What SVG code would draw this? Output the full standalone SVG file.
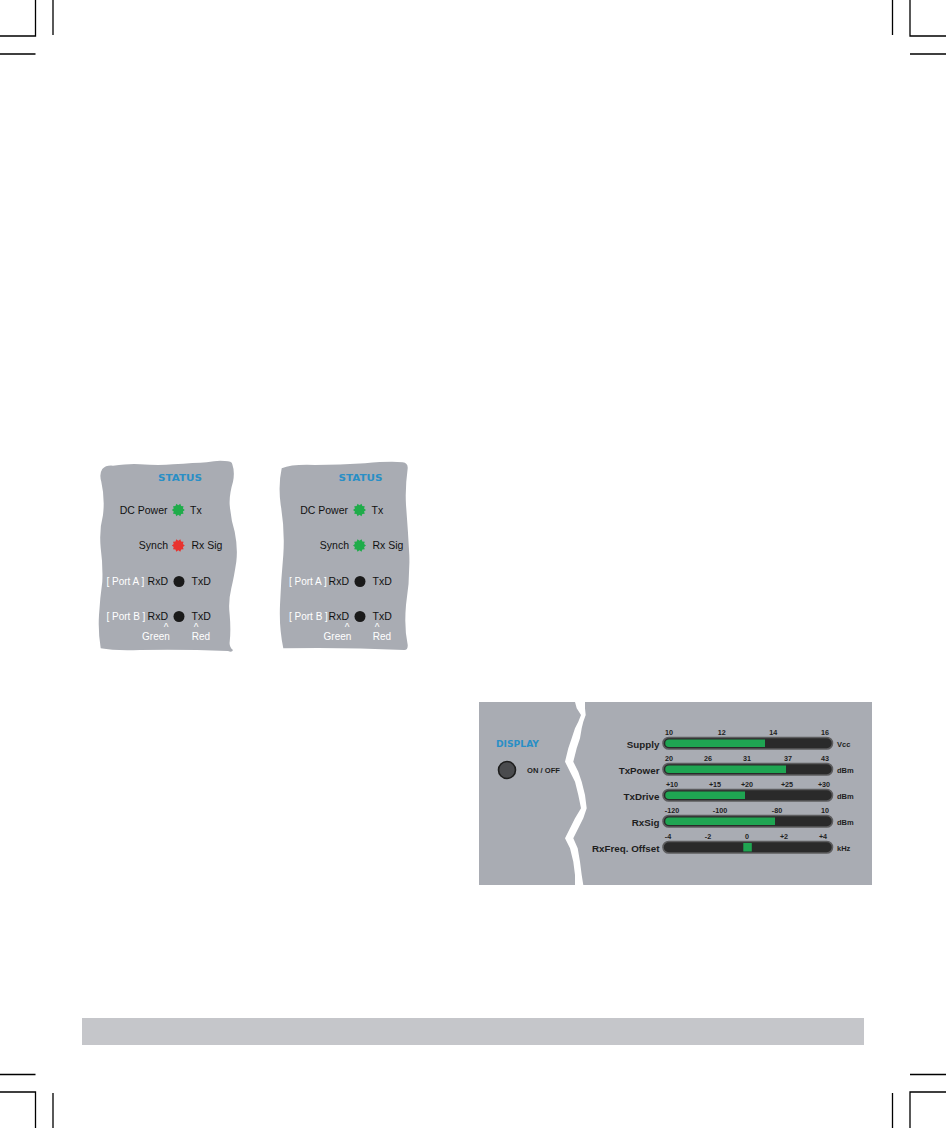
<svg xmlns="http://www.w3.org/2000/svg" width="946" height="1128" viewBox="0 0 946 1128">
<style>
.crop{stroke:#000;stroke-width:1.3;fill:none}
.panel{fill:#a9acb3}
.lbl{font-family:"Liberation Sans",Arial,sans-serif;font-size:10.5px;fill:#111}
.wl{font-family:"Liberation Sans",Arial,sans-serif;font-size:10px;fill:#fff}
.ttl{font-family:"DejaVu Sans",sans-serif;font-weight:bold;font-size:8.6px;fill:#2a8fc6}
.ml{font-family:"Liberation Sans",Arial,sans-serif;font-weight:bold;font-size:9.8px;fill:#1e1e1e}
.num{font-family:"Liberation Sans",Arial,sans-serif;font-weight:bold;font-size:7.2px;fill:#1e1e1e;text-anchor:middle}
.unit{font-family:"Liberation Sans",Arial,sans-serif;font-weight:bold;font-size:7.5px;fill:#1e1e1e}
.bar{fill:#2a2a2a;stroke:#5c5c5e;stroke-width:1.6}
.grn{fill:#1fa552}
.ledg{fill:#1fac4a}
.ledr{fill:#e8332f}
.dot{fill:#1a1a1a}
</style>
<defs>
<polygon id="star" points="6.5,0 4.565,1.483 5.259,3.821 2.821,3.883 2.009,6.182 0,4.8 -2.009,6.182 -2.821,3.883 -5.259,3.821 -4.565,1.483 -6.5,0 -4.565,-1.483 -5.259,-3.821 -2.821,-3.883 -2.009,-6.182 0,-4.8 2.009,-6.182 2.821,-3.883 5.259,-3.821 4.565,-1.483"/>
</defs>

<g id="crop-marks">
<path class="crop" d="M35.5,0V36H0M53,0V35M0,54H35.5"/>
<path class="crop" d="M910,0V36H946M892.5,0V35M910,54H946"/>
<path class="crop" d="M0,1074.5H35.5M0,1092H35.5V1128M53,1093V1128"/>
<path class="crop" d="M910,1074.5H946M946,1092H910V1128M892.5,1093V1128"/>
</g>

<rect id="footer-bar" x="82" y="1018" width="782" height="27" fill="#c5c6ca"/>

<g id="status-panel-1">
<path class="panel" d="M102.3,469 Q106,465 113,465.7 Q130,463.5 140,464.3 Q160,465.5 173,464.3 Q195,463 206.7,462.3 Q218,460 224.7,461 Q232,461 232.3,464.3 Q235,472 233,481.7 Q229,495 229.7,505 Q231,520 234.7,531.7 Q238,548 236.3,561.7 Q234,577 231.3,588.3 Q228,602 229.7,615 Q231,630 229.7,641.7 Q229,647 233,650 Q232,653 228,651 Q180,649 140,650 Q115,651 100.7,648.3 Q98,632 99,615 Q100,598 102.3,581.7 Q103,565 100.7,548 Q99,530 103,515 Q105,498 101.3,481.7 Q99,474 102.3,469 Z"/>
<text class="ttl" x="158" y="481" textLength="44" lengthAdjust="spacingAndGlyphs">STATUS</text>
<text class="lbl" x="167.5" y="514" text-anchor="end">DC Power</text>
<use href="#star" class="ledg" x="178.3" y="510"/>
<text class="lbl" x="190" y="514">Tx</text>
<text class="lbl" x="168" y="549" text-anchor="end">Synch</text>
<use href="#star" class="ledr" x="178.3" y="545.5"/>
<text class="lbl" x="191.5" y="549">Rx Sig</text>
<text class="wl" x="106.5" y="585">[ Port A ]</text>
<text class="lbl" x="168" y="585" text-anchor="end">RxD</text>
<circle class="dot" cx="179" cy="581.5" r="5.5"/>
<text class="lbl" x="191.5" y="585">TxD</text>
<text class="wl" x="106.5" y="620">[ Port B ]</text>
<text class="lbl" x="168" y="620" text-anchor="end">RxD</text>
<circle class="dot" cx="179" cy="616.5" r="5.5"/>
<text class="lbl" x="191.5" y="620">TxD</text>
<text class="wl" x="166" y="631" text-anchor="middle">^</text>
<text class="wl" x="196" y="631" text-anchor="middle">^</text>
<text class="wl" x="156" y="640" text-anchor="middle">Green</text>
<text class="wl" x="201" y="640" text-anchor="middle">Red</text>
</g>

<g id="status-panel-2">
<path class="panel" d="M281.7,468.3 Q292,464 315,465 Q340,465 365,463.3 Q390,461 402.7,462.3 Q408,463 407.7,468.3 Q405,488 406,505 Q408,530 409.3,555 Q410,580 406,605 Q404,628 407.7,645 Q408,650 404.3,650 Q340,647 283.3,648.3 Q279,628 280,605 Q281,580 283.3,555 Q285,530 280.7,505 Q278,485 281.7,468.3 Z"/>
<text class="ttl" x="338.5" y="481" textLength="44" lengthAdjust="spacingAndGlyphs">STATUS</text>
<text class="lbl" x="348" y="514" text-anchor="end">DC Power</text>
<use href="#star" class="ledg" x="359.5" y="510"/>
<text class="lbl" x="371.5" y="514">Tx</text>
<text class="lbl" x="349" y="549" text-anchor="end">Synch</text>
<use href="#star" class="ledg" x="359.5" y="545.5"/>
<text class="lbl" x="372.5" y="549">Rx Sig</text>
<text class="wl" x="289" y="585">[ Port A ]</text>
<text class="lbl" x="349" y="585" text-anchor="end">RxD</text>
<circle class="dot" cx="360" cy="581.5" r="5.5"/>
<text class="lbl" x="372.5" y="585">TxD</text>
<text class="wl" x="289" y="620">[ Port B ]</text>
<text class="lbl" x="349" y="620" text-anchor="end">RxD</text>
<circle class="dot" cx="360" cy="616.5" r="5.5"/>
<text class="lbl" x="372.5" y="620">TxD</text>
<text class="wl" x="347" y="631" text-anchor="middle">^</text>
<text class="wl" x="377" y="631" text-anchor="middle">^</text>
<text class="wl" x="337.5" y="640" text-anchor="middle">Green</text>
<text class="wl" x="382" y="640" text-anchor="middle">Red</text>
</g>

<g id="display-panel">
<rect class="panel" x="479" y="702" width="393" height="183" fill="#a8abb2"/>
<polygon fill="#fff" points="575,702 576.7,708.3 581,715 578.3,721.7 575,728.3 571.7,738.3 568.3,748.3 565,761.7 570,771.7 575,781.7 578.3,795 581,808.3 575,818.3 570,828.3 565,838.3 570,848.3 573.3,861.7 575,875 575,885 583.3,885 581.7,875 580,861.7 577.7,848.3 573.3,838.3 578.3,828.3 583.3,818.3 586.7,808.3 585,795 581.7,781.7 578.3,771.7 573.3,761.7 576.7,748.3 580,738.3 581.7,728.3 583.3,721.7 585.7,715 585,708.3 585,702"/>
<text class="ttl" x="496" y="747" textLength="43" lengthAdjust="spacingAndGlyphs">DISPLAY</text>
<circle cx="507" cy="770" r="8.5" fill="#4a4b4e" stroke="#1e1e1e" stroke-width="1.6"/>
<text class="ml" x="527" y="773" style="font-size:7.6px">ON / OFF</text>
</g>

<g id="meter-supply">
<text class="ml" x="659.5" y="748" text-anchor="end">Supply</text>
<rect class="bar" x="663" y="737.5" width="169.5" height="11.5" rx="5.75"/>
<path class="grn" d="M669,739.5H765V747H669A3.75,3.75 0 0 1 669,739.5Z"/>
<text class="num" x="669" y="735">10</text><text class="num" x="721.7" y="735">12</text><text class="num" x="773.3" y="735">14</text><text class="num" x="825" y="735">16</text>
<text class="unit" x="837" y="746.5">Vcc</text>
</g>

<g id="meter-txpower">
<text class="ml" x="659.5" y="774" text-anchor="end">TxPower</text>
<rect class="bar" x="663" y="763.5" width="169.5" height="11.5" rx="5.75"/>
<path class="grn" d="M669,765.5H786V773H669A3.75,3.75 0 0 1 669,765.5Z"/>
<text class="num" x="669" y="761">20</text><text class="num" x="708" y="761">26</text><text class="num" x="747" y="761">31</text><text class="num" x="788" y="761">37</text><text class="num" x="825" y="761">43</text>
<text class="unit" x="837" y="772.5">dBm</text>
</g>

<g id="meter-txdrive">
<text class="ml" x="659.5" y="800" text-anchor="end">TxDrive</text>
<rect class="bar" x="663" y="789.5" width="169.5" height="11.5" rx="5.75"/>
<path class="grn" d="M669,791.5H745V799H669A3.75,3.75 0 0 1 669,791.5Z"/>
<text class="num" x="672" y="787">+10</text><text class="num" x="715" y="787">+15</text><text class="num" x="747" y="787">+20</text><text class="num" x="787" y="787">+25</text><text class="num" x="824" y="787">+30</text>
<text class="unit" x="837" y="798.5">dBm</text>
</g>

<g id="meter-rxsig">
<text class="ml" x="659.5" y="826" text-anchor="end">RxSig</text>
<rect class="bar" x="663" y="815.5" width="169.5" height="11.5" rx="5.75"/>
<path class="grn" d="M669,817.5H775V825H669A3.75,3.75 0 0 1 669,817.5Z"/>
<text class="num" x="672" y="813">-120</text><text class="num" x="720" y="813">-100</text><text class="num" x="777" y="813">-80</text><text class="num" x="825" y="813">10</text>
<text class="unit" x="837" y="824.5">dBm</text>
</g>

<g id="meter-rxfreq-offset">
<text class="ml" x="659.5" y="852" text-anchor="end">RxFreq. Offset</text>
<rect class="bar" x="663" y="841.5" width="169.5" height="11.5" rx="5.75"/>
<rect class="grn" x="743.3" y="843" width="8.5" height="8.5"/>
<text class="num" x="668" y="839">-4</text><text class="num" x="708" y="839">-2</text><text class="num" x="747" y="839">0</text><text class="num" x="784" y="839">+2</text><text class="num" x="823" y="839">+4</text>
<text class="unit" x="837" y="850.5">kHz</text>
</g>
</svg>
